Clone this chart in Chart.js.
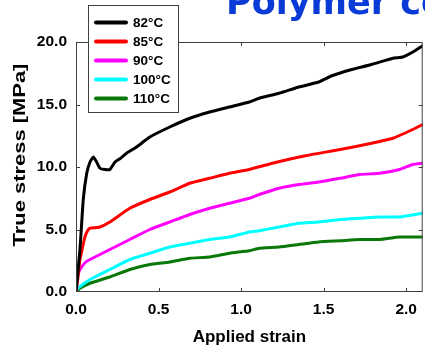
<!DOCTYPE html>
<html>
<head>
<meta charset="utf-8">
<script src="https://cdn.jsdelivr.net/npm/chart.js@4/dist/chart.umd.min.js"></script>
<style>
  html, body { margin: 0; padding: 0; background: #ffffff; }
  #wrap { width: 425px; height: 352px; position: relative; }
</style>
</head>
<body>
<div id="wrap"><canvas id="c" width="425" height="352"></canvas></div>
<script>
// ---- Data ----
const seriesLabels = ['82°C', '85°C', '90°C', '100°C', '110°C'];

const strain82 = [0, 0.024, 0.044, 0.065, 0.085, 0.105, 0.125, 0.145, 0.175, 0.205, 0.236, 0.27, 0.306, 0.367, 0.447, 0.568, 0.689, 0.81, 0.93, 1.05, 1.11, 1.23, 1.35, 1.47, 1.55, 1.67, 1.79, 1.92, 1.98, 2.04, 2.10];
const stress82 = [0, 3.4, 7.4, 9.5, 10.4, 10.8, 10.4, 9.9, 9.8, 9.8, 10.4, 10.7, 11.1, 11.6, 12.4, 13.2, 13.9, 14.4, 14.8, 15.2, 15.5, 15.9, 16.4, 16.8, 17.3, 17.8, 18.2, 18.7, 18.8, 19.2, 19.7];

const strain85 = [0, 0.012, 0.024, 0.04, 0.054, 0.07, 0.085, 0.145, 0.205, 0.326, 0.447, 0.568, 0.689, 0.81, 0.93, 1.05, 1.19, 1.39, 1.60, 1.79, 1.92, 2.04, 2.10];
const stress85 = [0, 1.2, 2.6, 3.6, 4.4, 4.9, 5.1, 5.2, 5.6, 6.7, 7.4, 8.0, 8.7, 9.1, 9.5, 9.8, 10.3, 10.9, 11.4, 11.9, 12.3, 13.0, 13.4];

const strain90 = [0, 0.004, 0.014, 0.034, 0.06, 0.085, 0.205, 0.326, 0.447, 0.568, 0.689, 0.81, 0.93, 1.05, 1.11, 1.23, 1.35, 1.47, 1.60, 1.72, 1.84, 1.96, 2.04, 2.10];
const stress90 = [0, 0.7, 1.5, 2.0, 2.4, 2.6, 3.4, 4.2, 5.0, 5.6, 6.2, 6.7, 7.1, 7.5, 7.8, 8.3, 8.6, 8.8, 9.1, 9.4, 9.5, 9.8, 10.2, 10.3];

const strain100 = [0, 0.004, 0.04, 0.085, 0.205, 0.326, 0.447, 0.568, 0.689, 0.81, 0.93, 1.05, 1.11, 1.23, 1.35, 1.47, 1.60, 1.72, 1.84, 1.96, 2.10];
const stress100 = [0, 0.2, 0.6, 1.0, 1.8, 2.6, 3.1, 3.6, 3.9, 4.2, 4.4, 4.8, 4.9, 5.2, 5.5, 5.6, 5.8, 5.9, 6.0, 6.0, 6.3];

const strain110 = [0, 0.024, 0.085, 0.205, 0.326, 0.447, 0.568, 0.689, 0.81, 0.93, 1.05, 1.11, 1.23, 1.35, 1.47, 1.60, 1.72, 1.84, 1.96, 2.10];
const stress110 = [0, 0.3, 0.7, 1.2, 1.8, 2.2, 2.4, 2.7, 2.8, 3.1, 3.3, 3.5, 3.6, 3.8, 4.0, 4.1, 4.2, 4.2, 4.4, 4.4];

const xTicks = [0, 0.5, 1.0, 1.5, 2.0];
const yTicks = [0, 5, 10, 15, 20];
const xTitle = 'Applied strain';
const yTitle = 'True stress [MPa]';
const headerText = 'Polymer co';

const colors = ['#000000', '#ff0000', '#ff00ff', '#00ffff', '#087808'];

function pts(xs, ys) { return xs.map((x, i) => ({ x: x, y: ys[i] })); }
const allX = [strain82, strain85, strain90, strain100, strain110];
const allY = [stress82, stress85, stress90, stress100, stress110];

const datasets = seriesLabels.map((lab, i) => ({
  label: lab,
  data: pts(allX[i], allY[i]),
  borderColor: colors[i],
  backgroundColor: colors[i],
  borderWidth: 3,
  pointRadius: 0,
  tension: 0.15,
  fill: false
}));

const FONT = '"Liberation Sans", Arial, sans-serif';

const framePlugin = {
  id: 'frame',
  afterDatasetsDraw(chart) {
    const ctx = chart.ctx, ca = chart.chartArea;
    const xs = chart.scales.x, ys = chart.scales.y;
    ctx.save();
    ctx.strokeStyle = '#404040';
    ctx.lineWidth = 1;
    ctx.strokeRect(ca.left + 0.5, ca.top + 0.5, ca.right - ca.left - 1, ca.bottom - ca.top - 1);
    const tl = 4;
    ctx.beginPath();
    xTicks.forEach(v => {
      const px = Math.round(xs.getPixelForValue(v)) + 0.5;
      if (v === 0) return;
      ctx.moveTo(px, ca.bottom); ctx.lineTo(px, ca.bottom - tl);
      ctx.moveTo(px, ca.top); ctx.lineTo(px, ca.top + tl);
    });
    yTicks.forEach(v => {
      const py = Math.round(ys.getPixelForValue(v)) + 0.5;
      if (v === 0 || v === 20) return;
      ctx.moveTo(ca.left, py); ctx.lineTo(ca.left + tl, py);
      ctx.moveTo(ca.right, py); ctx.lineTo(ca.right - tl, py);
    });
    ctx.stroke();
    ctx.restore();
  },
  afterDraw(chart) {
    const ctx = chart.ctx, ca = chart.chartArea;
    ctx.save();
    // header text (clipped at top)
    ctx.font = 'bold 35px "DejaVu Sans", sans-serif';
    ctx.fillStyle = '#0b3bd6';
    ctx.textBaseline = 'alphabetic';
    ctx.textAlign = 'left';
    ctx.fillText(headerText, 226, 14);

    // y title, rotated
    ctx.save();
    ctx.translate(20, (ca.top + ca.bottom) / 2 - 12);
    ctx.rotate(-Math.PI / 2);
    ctx.scale(1.29, 1);
    ctx.font = 'bold 17px ' + FONT;
    ctx.fillStyle = '#000';
    ctx.textAlign = 'center';
    ctx.textBaseline = 'middle';
    ctx.fillText(yTitle, 0, 0);
    ctx.restore();

    // legend box
    const bx = 88.5, by = 5.5, bw = 90, bh = 107;
    ctx.fillStyle = '#ffffff';
    ctx.fillRect(bx, by, bw, bh);
    ctx.strokeStyle = '#404040';
    ctx.lineWidth = 1;
    ctx.strokeRect(bx, by, bw, bh);
    const rowY = [22.5, 41.5, 60.5, 79.5, 98.5];
    ctx.font = 'bold 13.5px ' + FONT;
    ctx.textAlign = 'left';
    ctx.textBaseline = 'middle';
    chart.data.datasets.forEach((ds, i) => {
      ctx.strokeStyle = ds.borderColor;
      ctx.lineWidth = 4;
      ctx.lineCap = 'round';
      ctx.beginPath();
      ctx.moveTo(96, rowY[i]);
      ctx.lineTo(126, rowY[i]);
      ctx.stroke();
      ctx.fillStyle = '#000';
      ctx.fillText(ds.label, 133, rowY[i] + 0.5);
    });
    ctx.restore();
  }
};

new Chart(document.getElementById('c'), {
  type: 'line',
  data: { datasets: datasets },
  options: {
    responsive: false,
    animation: false,
    layout: { padding: { top: 42, right: 1, left: 0, bottom: 0 } },
    plugins: { legend: { display: false }, tooltip: { enabled: false } },
    scales: {
      x: {
        type: 'linear',
        min: 0, max: 2.1,
        afterFit(s) { s.height = 60; },
        afterBuildTicks(s) { s.ticks = xTicks.map(v => ({ value: v })); },
        grid: { display: false, drawTicks: false },
        border: { display: false },
        ticks: {
          padding: 8,
          color: '#000',
          font: { family: FONT, size: 15.5, weight: 'bold' },
          maxRotation: 0,
          callback: v => Number(v).toFixed(1)
        },
        title: {
          display: true,
          text: xTitle,
          color: '#000',
          font: { family: FONT, size: 17, weight: 'bold' },
          padding: { top: 0, bottom: 4 }
        }
      },
      y: {
        type: 'linear',
        min: 0, max: 20,
        afterFit(s) { s.width = 76; },
        afterBuildTicks(s) { s.ticks = yTicks.map(v => ({ value: v })); },
        grid: { display: false, drawTicks: false },
        border: { display: false },
        ticks: {
          padding: 9,
          color: '#000',
          font: { family: FONT, size: 15.5, weight: 'bold' },
          callback: v => Number(v).toFixed(1)
        }
      }
    }
  },
  plugins: [framePlugin]
});
</script>
</body>
</html>
